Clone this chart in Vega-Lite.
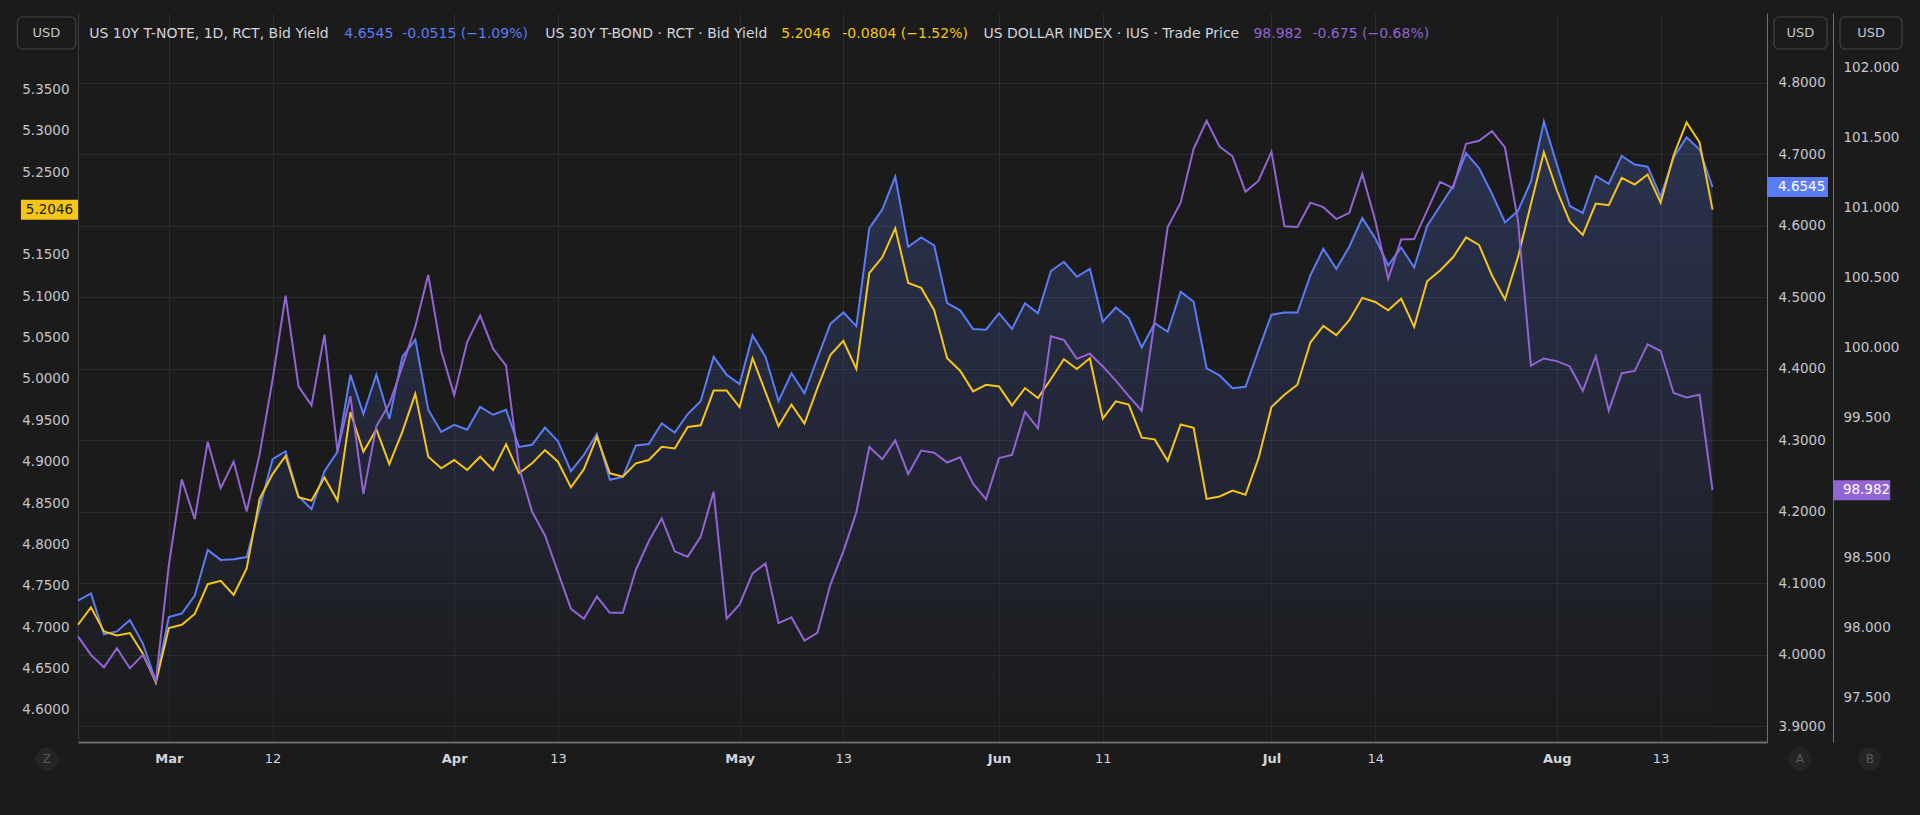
{
"$schema": "https://vega.github.io/schema/vega-lite/v6.json",
"width": 1689, "height": 729,
"autosize": {"type": "none"},
"padding": {"left": 78, "top": 13, "right": 153, "bottom": 73},
"background": "#1b1b1b",
"config": {
  "view": {"stroke": null},
  "font": "DejaVu Sans",
  "axis": {"labelFont": "DejaVu Sans", "labelFontSize": 13.5, "labelColor": "#c3c6cc", "ticks": false, "tickSize": 0, "title": null, "gridColor": "#2b2b2b", "gridWidth": 1, "domainColor": "#6f6f6f", "labelOverlap": false, "labelBound": false, "labelFlush": false, "labelLimit": 600}
},
"datasets": {"rates": [
{"i":0,"y10":4.076,"y30":4.703,"dxy":97.938},
{"i":1,"y10":4.086,"y30":4.724,"dxy":97.806},
{"i":2,"y10":4.029,"y30":4.695,"dxy":97.717},
{"i":3,"y10":4.033,"y30":4.690,"dxy":97.853},
{"i":4,"y10":4.049,"y30":4.693,"dxy":97.711},
{"i":5,"y10":4.016,"y30":4.668,"dxy":97.806},
{"i":6,"y10":3.963,"y30":4.633,"dxy":97.616},
{"i":7,"y10":4.053,"y30":4.699,"dxy":98.444},
{"i":8,"y10":4.058,"y30":4.703,"dxy":99.059},
{"i":9,"y10":4.083,"y30":4.716,"dxy":98.775},
{"i":10,"y10":4.147,"y30":4.752,"dxy":99.328},
{"i":11,"y10":4.133,"y30":4.756,"dxy":98.996},
{"i":12,"y10":4.134,"y30":4.739,"dxy":99.186},
{"i":13,"y10":4.137,"y30":4.771,"dxy":98.829},
{"i":14,"y10":4.205,"y30":4.855,"dxy":99.239},
{"i":15,"y10":4.274,"y30":4.885,"dxy":99.770},
{"i":16,"y10":4.285,"y30":4.907,"dxy":100.370},
{"i":17,"y10":4.222,"y30":4.857,"dxy":99.723},
{"i":18,"y10":4.204,"y30":4.853,"dxy":99.587},
{"i":19,"y10":4.257,"y30":4.881,"dxy":100.092},
{"i":20,"y10":4.284,"y30":4.853,"dxy":99.258},
{"i":21,"y10":4.392,"y30":4.960,"dxy":99.653},
{"i":22,"y10":4.337,"y30":4.912,"dxy":98.955},
{"i":23,"y10":4.392,"y30":4.939,"dxy":99.438},
{"i":24,"y10":4.330,"y30":4.897,"dxy":99.596},
{"i":25,"y10":4.417,"y30":4.936,"dxy":99.865},
{"i":26,"y10":4.441,"y30":4.982,"dxy":100.149},
{"i":27,"y10":4.343,"y30":4.906,"dxy":100.519},
{"i":28,"y10":4.312,"y30":4.892,"dxy":99.975},
{"i":29,"y10":4.322,"y30":4.902,"dxy":99.660},
{"i":30,"y10":4.315,"y30":4.890,"dxy":100.039},
{"i":31,"y10":4.347,"y30":4.906,"dxy":100.228},
{"i":32,"y10":4.336,"y30":4.890,"dxy":99.991},
{"i":33,"y10":4.343,"y30":4.921,"dxy":99.871},
{"i":34,"y10":4.291,"y30":4.886,"dxy":99.145},
{"i":35,"y10":4.294,"y30":4.898,"dxy":98.829},
{"i":36,"y10":4.318,"y30":4.914,"dxy":98.658},
{"i":37,"y10":4.299,"y30":4.900,"dxy":98.396},
{"i":38,"y10":4.257,"y30":4.869,"dxy":98.134},
{"i":39,"y10":4.280,"y30":4.891,"dxy":98.064},
{"i":40,"y10":4.309,"y30":4.930,"dxy":98.222},
{"i":41,"y10":4.245,"y30":4.886,"dxy":98.106},
{"i":42,"y10":4.249,"y30":4.882,"dxy":98.106},
{"i":43,"y10":4.293,"y30":4.898,"dxy":98.412},
{"i":44,"y10":4.295,"y30":4.902,"dxy":98.617},
{"i":45,"y10":4.324,"y30":4.918,"dxy":98.781},
{"i":46,"y10":4.311,"y30":4.916,"dxy":98.545},
{"i":47,"y10":4.337,"y30":4.942,"dxy":98.507},
{"i":48,"y10":4.355,"y30":4.944,"dxy":98.649},
{"i":49,"y10":4.417,"y30":4.986,"dxy":98.971},
{"i":50,"y10":4.392,"y30":4.986,"dxy":98.064},
{"i":51,"y10":4.379,"y30":4.966,"dxy":98.166},
{"i":52,"y10":4.447,"y30":5.025,"dxy":98.387},
{"i":53,"y10":4.417,"y30":4.984,"dxy":98.459},
{"i":54,"y10":4.355,"y30":4.943,"dxy":98.033},
{"i":55,"y10":4.394,"y30":4.969,"dxy":98.074},
{"i":56,"y10":4.366,"y30":4.946,"dxy":97.907},
{"i":57,"y10":4.415,"y30":4.989,"dxy":97.963},
{"i":58,"y10":4.463,"y30":5.029,"dxy":98.308},
{"i":59,"y10":4.479,"y30":5.046,"dxy":98.545},
{"i":60,"y10":4.460,"y30":5.012,"dxy":98.823},
{"i":61,"y10":4.597,"y30":5.128,"dxy":99.290},
{"i":62,"y10":4.623,"y30":5.147,"dxy":99.202},
{"i":63,"y10":4.669,"y30":5.182,"dxy":99.337},
{"i":64,"y10":4.571,"y30":5.116,"dxy":99.097},
{"i":65,"y10":4.584,"y30":5.110,"dxy":99.265},
{"i":66,"y10":4.573,"y30":5.083,"dxy":99.249},
{"i":67,"y10":4.492,"y30":5.025,"dxy":99.179},
{"i":68,"y10":4.482,"y30":5.010,"dxy":99.217},
{"i":69,"y10":4.456,"y30":4.985,"dxy":99.028},
{"i":70,"y10":4.455,"y30":4.993,"dxy":98.917},
{"i":71,"y10":4.478,"y30":4.991,"dxy":99.211},
{"i":72,"y10":4.456,"y30":4.968,"dxy":99.233},
{"i":73,"y10":4.492,"y30":4.989,"dxy":99.540},
{"i":74,"y10":4.478,"y30":4.977,"dxy":99.423},
{"i":75,"y10":4.537,"y30":5.000,"dxy":100.080},
{"i":76,"y10":4.550,"y30":5.024,"dxy":100.054},
{"i":77,"y10":4.529,"y30":5.012,"dxy":99.919},
{"i":78,"y10":4.540,"y30":5.025,"dxy":99.956},
{"i":79,"y10":4.466,"y30":4.952,"dxy":99.865},
{"i":80,"y10":4.486,"y30":4.973,"dxy":99.764},
{"i":81,"y10":4.471,"y30":4.969,"dxy":99.653},
{"i":82,"y10":4.430,"y30":4.929,"dxy":99.549},
{"i":83,"y10":4.464,"y30":4.927,"dxy":100.196},
{"i":84,"y10":4.452,"y30":4.901,"dxy":100.860},
{"i":85,"y10":4.508,"y30":4.945,"dxy":101.034},
{"i":86,"y10":4.494,"y30":4.941,"dxy":101.419},
{"i":87,"y10":4.401,"y30":4.855,"dxy":101.618},
{"i":88,"y10":4.391,"y30":4.858,"dxy":101.435},
{"i":89,"y10":4.373,"y30":4.865,"dxy":101.365},
{"i":90,"y10":4.375,"y30":4.860,"dxy":101.112},
{"i":91,"y10":4.426,"y30":4.904,"dxy":101.191},
{"i":92,"y10":4.476,"y30":4.966,"dxy":101.397},
{"i":93,"y10":4.479,"y30":4.981,"dxy":100.866},
{"i":94,"y10":4.479,"y30":4.993,"dxy":100.860},
{"i":95,"y10":4.531,"y30":5.044,"dxy":101.034},
{"i":96,"y10":4.568,"y30":5.064,"dxy":101.002},
{"i":97,"y10":4.540,"y30":5.053,"dxy":100.917},
{"i":98,"y10":4.571,"y30":5.071,"dxy":100.961},
{"i":99,"y10":4.611,"y30":5.098,"dxy":101.239},
{"i":100,"y10":4.583,"y30":5.093,"dxy":100.907},
{"i":101,"y10":4.545,"y30":5.083,"dxy":100.490},
{"i":102,"y10":4.570,"y30":5.097,"dxy":100.771},
{"i":103,"y10":4.542,"y30":5.063,"dxy":100.774},
{"i":104,"y10":4.600,"y30":5.118,"dxy":100.977},
{"i":105,"y10":4.628,"y30":5.131,"dxy":101.182},
{"i":106,"y10":4.656,"y30":5.147,"dxy":101.138},
{"i":107,"y10":4.702,"y30":5.171,"dxy":101.454},
{"i":108,"y10":4.681,"y30":5.162,"dxy":101.476},
{"i":109,"y10":4.645,"y30":5.125,"dxy":101.545},
{"i":110,"y10":4.605,"y30":5.096,"dxy":101.428},
{"i":111,"y10":4.621,"y30":5.147,"dxy":100.907},
{"i":112,"y10":4.662,"y30":5.211,"dxy":99.871},
{"i":113,"y10":4.746,"y30":5.274,"dxy":99.922},
{"i":114,"y10":4.686,"y30":5.228,"dxy":99.903},
{"i":115,"y10":4.628,"y30":5.190,"dxy":99.865},
{"i":116,"y10":4.618,"y30":5.174,"dxy":99.691},
{"i":117,"y10":4.670,"y30":5.212,"dxy":99.938},
{"i":118,"y10":4.659,"y30":5.210,"dxy":99.549},
{"i":119,"y10":4.698,"y30":5.243,"dxy":99.817},
{"i":120,"y10":4.686,"y30":5.235,"dxy":99.833},
{"i":121,"y10":4.683,"y30":5.247,"dxy":100.023},
{"i":122,"y10":4.641,"y30":5.213,"dxy":99.975},
{"i":123,"y10":4.696,"y30":5.270,"dxy":99.675},
{"i":124,"y10":4.724,"y30":5.310,"dxy":99.644},
{"i":125,"y10":4.707,"y30":5.286,"dxy":99.663},
{"i":126,"y10":4.6545,"y30":5.2046,"dxy":98.982}
]},
"data": {"name": "rates"},
"layer": [
 {
  "layer": [
   {
    "mark": {"type": "area", "fill": {"gradient": "linear", "x1": 0, "y1": 0, "x2": 0, "y2": 1, "stops": [{"offset": 0, "color": "#5b7cf7"}, {"offset": 0.5, "color": "#3c4d8e"}, {"offset": 1, "color": "#1b1b1b"}]}, "fillOpacity": 0.24, "opacity": 1},
    "encoding": {
     "x": {"field": "i", "type": "quantitative", "scale": {"domain": [0, 130.2], "nice": false, "zero": false},
           "axis": {"orient": "bottom", "values": [7,15,29,37,51,59,71,79,92,100,114,122],
                    "labelExpr": "datum.value==7?'Mar':datum.value==15?'12':datum.value==29?'Apr':datum.value==37?'13':datum.value==51?'May':datum.value==59?'13':datum.value==71?'Jun':datum.value==79?'11':datum.value==92?'Jul':datum.value==100?'14':datum.value==114?'Aug':'13'",
                    "grid": true, "domain": true, "domainColor": "#6f6f6f", "domainWidth": 2, "labelPadding": 10, "labelFontSize": 13, "labelColor": "#d1d4dc",
                    "labelFontWeight": {"condition": {"test": "indexof([7,29,51,71,92,114], datum.value) >= 0", "value": "bold"}, "value": "normal"}}},
     "y": {"field": "y10", "type": "quantitative", "scale": {"domain": [3.8783, 4.8979], "nice": false, "zero": false},
           "axis": {"orient": "right", "values": [3.9,4.0,4.1,4.2,4.3,4.4,4.5,4.6,4.7,4.8], "format": ".4f", "grid": true, "labelPadding": 11, "domainColor": "#6f6f6f"}},
     "y2": {"datum": 3.8783}
    }
   },
   {
    "mark": {"type": "line", "color": "#5b7cf7", "strokeWidth": 2},
    "encoding": {"x": {"field": "i", "type": "quantitative"}, "y": {"field": "y10", "type": "quantitative"}}
   },
   {
    "transform": [{"filter": "datum.i == 126"}],
    "mark": {"type": "rect", "color": "#5b7cf7", "yOffset": -10, "y2Offset": 10, "clip": false},
    "encoding": {"x": {"datum": 130.2}, "x2": {"datum": 134.9}, "y": {"field": "y10", "type": "quantitative"}, "y2": {"field": "y10"}}
   },
   {
    "transform": [{"filter": "datum.i == 126"}],
    "mark": {"type": "text", "color": "#ffffff", "align": "left", "baseline": "middle", "fontSize": 13.5, "font": "DejaVu Sans", "clip": false},
    "encoding": {"x": {"datum": 131.05}, "y": {"field": "y10", "type": "quantitative"}, "text": {"field": "y10", "type": "quantitative", "format": ".4f"}}
   },
   {
    "data": {"values": [{"label": "USD"}]},
    "mark": {"type": "rect", "fill": "#1b1b1b", "stroke": "#3a3a3a", "strokeWidth": 1.5, "cornerRadius": 5, "clip": false},
    "encoding": {"x": {"datum": -4.67}, "x2": {"datum": -0.18}, "y": {"datum": 4.8923}, "y2": {"datum": 4.8476}}
   },
   {
    "data": {"values": [{"label": "USD"}]},
    "mark": {"type": "rect", "fill": "#1b1b1b", "stroke": "#3a3a3a", "strokeWidth": 1.5, "cornerRadius": 5, "clip": false},
    "encoding": {"x": {"datum": 130.74}, "x2": {"datum": 134.83}, "y": {"datum": 4.8923}, "y2": {"datum": 4.8476}}
   },
   {
    "data": {"values": [{"label": "USD"}]},
    "mark": {"type": "rect", "fill": "#1b1b1b", "stroke": "#3a3a3a", "strokeWidth": 1.5, "cornerRadius": 5, "clip": false},
    "encoding": {"x": {"datum": 135.83}, "x2": {"datum": 140.6}, "y": {"datum": 4.8923}, "y2": {"datum": 4.8476}}
   },
   {
    "data": {"values": [{"label": "USD"}]},
    "mark": {"type": "text", "color": "#c3c6cc", "fontSize": 13, "font": "DejaVu Sans", "align": "center", "baseline": "middle", "clip": false},
    "encoding": {"x": {"datum": -2.43}, "y": {"datum": 4.8699}, "text": {"field": "label"}}
   },
   {
    "data": {"values": [{"label": "USD"}]},
    "mark": {"type": "text", "color": "#c3c6cc", "fontSize": 13, "font": "DejaVu Sans", "align": "center", "baseline": "middle", "clip": false},
    "encoding": {"x": {"datum": 132.78}, "y": {"datum": 4.8699}, "text": {"field": "label"}}
   },
   {
    "data": {"values": [{"label": "USD"}]},
    "mark": {"type": "text", "color": "#c3c6cc", "fontSize": 13, "font": "DejaVu Sans", "align": "center", "baseline": "middle", "clip": false},
    "encoding": {"x": {"datum": 138.22}, "y": {"datum": 4.8699}, "text": {"field": "label"}}
   },
   {
    "data": {"values": [{"label": "Z"}]},
    "mark": {"type": "point", "shape": "circle", "filled": true, "size": 520, "color": "#252525", "opacity": 1, "clip": false},
    "encoding": {"x": {"datum": -2.41}, "y": {"datum": 3.8545}}
   },
   {
    "data": {"values": [{"label": "A"}]},
    "mark": {"type": "point", "shape": "circle", "filled": true, "size": 520, "color": "#252525", "opacity": 1, "clip": false},
    "encoding": {"x": {"datum": 132.74}, "y": {"datum": 3.8545}}
   },
   {
    "data": {"values": [{"label": "B"}]},
    "mark": {"type": "point", "shape": "circle", "filled": true, "size": 520, "color": "#252525", "opacity": 1, "clip": false},
    "encoding": {"x": {"datum": 138.13}, "y": {"datum": 3.8545}}
   },
   {
    "data": {"values": [{"label": "Z"}]},
    "mark": {"type": "text", "color": "#595959", "fontSize": 12, "font": "DejaVu Sans", "align": "center", "baseline": "middle", "clip": false},
    "encoding": {"x": {"datum": -2.41}, "y": {"datum": 3.8545}, "text": {"field": "label"}}
   },
   {
    "data": {"values": [{"label": "A"}]},
    "mark": {"type": "text", "color": "#595959", "fontSize": 12, "font": "DejaVu Sans", "align": "center", "baseline": "middle", "clip": false},
    "encoding": {"x": {"datum": 132.74}, "y": {"datum": 3.8545}, "text": {"field": "label"}}
   },
   {
    "data": {"values": [{"label": "B"}]},
    "mark": {"type": "text", "color": "#595959", "fontSize": 12, "font": "DejaVu Sans", "align": "center", "baseline": "middle", "clip": false},
    "encoding": {"x": {"datum": 138.13}, "y": {"datum": 3.8545}, "text": {"field": "label"}}
   }
  ]
 },
 {
  "layer": [
   {
    "mark": {"type": "line", "color": "#f5c518", "strokeWidth": 2},
    "encoding": {
     "x": {"field": "i", "type": "quantitative", "axis": null},
     "y": {"field": "y30", "type": "quantitative", "scale": {"domain": [4.5613, 5.4422], "nice": false, "zero": false},
           "axis": {"orient": "left", "values": [4.6,4.65,4.7,4.75,4.8,4.85,4.9,4.95,5.0,5.05,5.1,5.15,5.25,5.3,5.35], "format": ".4f", "grid": false, "labelPadding": 9, "domainColor": "#3d3d3d"}}
    }
   },
   {
    "transform": [{"filter": "datum.i == 126"}],
    "mark": {"type": "rect", "color": "#f5c518", "yOffset": -10, "y2Offset": 10, "clip": false},
    "encoding": {"x": {"datum": -4.4}, "x2": {"datum": 0}, "y": {"field": "y30", "type": "quantitative"}, "y2": {"field": "y30"}}
   },
   {
    "transform": [{"filter": "datum.i == 126"}],
    "mark": {"type": "text", "color": "#1b1b1b", "align": "center", "baseline": "middle", "fontSize": 13.5, "font": "DejaVu Sans", "clip": false},
    "encoding": {"x": {"datum": -2.2}, "y": {"field": "y30", "type": "quantitative"}, "text": {"field": "y30", "type": "quantitative", "format": ".4f"}}
   }
  ]
 },
 {
  "layer": [
   {
    "mark": {"type": "line", "color": "#9264d4", "strokeWidth": 2},
    "encoding": {
     "x": {"field": "i", "type": "quantitative",
           "axis": {"orient": "top", "values": [0.825, 20.49, 24.96, 35.98, 54.18, 58.88, 69.76, 90.57, 95.12],
                    "labelExpr": "datum.value < 10 ? 'US 10Y T-NOTE, 1D, RCT, Bid Yield' : datum.value < 22 ? '4.6545' : datum.value < 30 ? '-0.0515 (−1.09%)' : datum.value < 40 ? 'US 30Y T-BOND · RCT · Bid Yield' : datum.value < 56 ? '5.2046' : datum.value < 65 ? '-0.0804 (−1.52%)' : datum.value < 80 ? 'US DOLLAR INDEX · IUS · Trade Price' : datum.value < 93 ? '98.982' : '-0.675 (−0.68%)'",
                    "labelColor": {"condition": [{"test": "datum.value > 20 && datum.value < 30", "value": "#5b7cf7"}, {"test": "datum.value > 50 && datum.value < 60", "value": "#f5c518"}, {"test": "datum.value > 90", "value": "#9264d4"}], "value": "#d1d4dc"},
                    "domain": false, "grid": false, "offset": -20, "labelPadding": 0, "labelBaseline": "middle", "labelAlign": "left", "labelFontSize": 14}},
     "y": {"field": "dxy", "type": "quantitative", "scale": {"domain": [97.184, 102.388], "nice": false, "zero": false},
           "axis": {"orient": "right", "offset": 66, "values": [97.5,98,98.5,99.5,100,100.5,101,101.5,102], "format": ".3f", "grid": false, "labelPadding": 10, "domainColor": "#6f6f6f"}}
    }
   },
   {
    "transform": [{"filter": "datum.i == 126"}],
    "mark": {"type": "rect", "color": "#9264d4", "yOffset": -10, "y2Offset": 10, "clip": false},
    "encoding": {"x": {"datum": 135.29}, "x2": {"datum": 139.7}, "y": {"field": "dxy", "type": "quantitative"}, "y2": {"field": "dxy"}}
   },
   {
    "transform": [{"filter": "datum.i == 126"}],
    "mark": {"type": "text", "color": "#ffffff", "align": "left", "baseline": "middle", "fontSize": 13.5, "font": "DejaVu Sans", "clip": false},
    "encoding": {"x": {"datum": 136.05}, "y": {"field": "dxy", "type": "quantitative"}, "text": {"field": "dxy", "type": "quantitative", "format": ".3f"}}
   }
  ]
 }
],
"resolve": {"scale": {"y": "independent"}, "axis": {"x": "independent", "y": "independent"}}
}
